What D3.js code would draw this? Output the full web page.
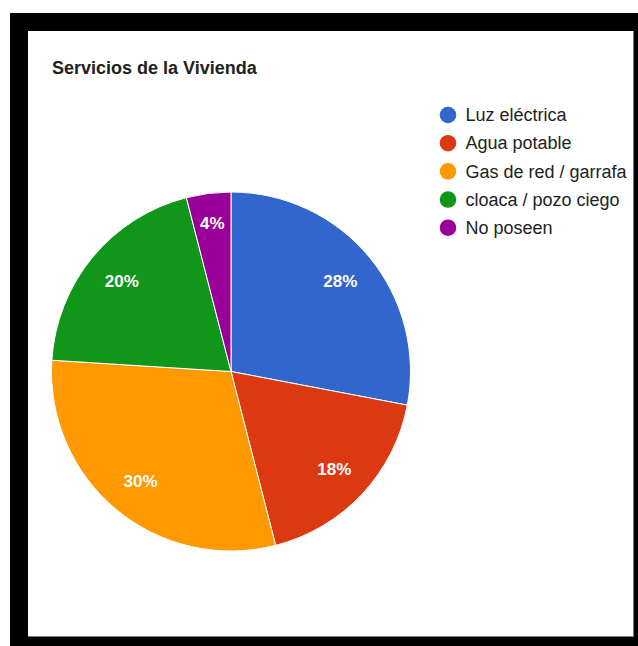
<!DOCTYPE html>
<meta charset="utf-8">
<title>Servicios de la Vivienda</title>
<style>
  body { margin: 0; background: #fff; }
  text { font-family: "Liberation Sans", Arial, sans-serif; }
</style>
<body>
<div id="chart"></div>
<script src="https://d3js.org/d3.v7.min.js"></script>
<script>

// data (percent of households)
var categories = ["Luz eléctrica", "Agua potable", "Gas de red / garrafa", "cloaca / pozo ciego", "No poseen"];
var values = [28, 18, 30, 20, 4];
var colors = ["#3366cc", "#dc3912", "#ff9900", "#109618", "#990099"];
var title = "Servicios de la Vivienda";

var width = 638, height = 646;

var svg = d3.select("#chart").append("svg")
    .attr("width", width)
    .attr("height", height);

// black frame round the chart, white panel inside with a faint grey edge
svg.append("rect").attr("x", 10).attr("y", 13).attr("width", 628).attr("height", 633).attr("fill", "#000");
svg.append("rect").attr("x", 28).attr("y", 31).attr("width", 606).attr("height", 606).attr("fill", "#777");
svg.append("rect").attr("x", 28).attr("y", 31).attr("width", 605).attr("height", 605).attr("fill", "#fff");

svg.append("text")
    .attr("x", 52).attr("y", 74)
    .style("font-size", "18px").style("font-weight", "bold")
    .attr("fill", "#222")
    .text(title);

var data = categories.map(function(c, i) { return {name: c, value: values[i], color: colors[i]}; });

var radius = 179.5;
var cx = 231, cy = 371.5;

var pie = d3.pie().sort(null).value(function(d) { return d.value; });
var arc = d3.arc().innerRadius(0).outerRadius(radius);

var g = svg.append("g").attr("transform", "translate(" + cx + "," + cy + ")");
var arcs = pie(data);

g.selectAll("path")
    .data(arcs)
    .enter().append("path")
    .attr("d", arc)
    .attr("fill", function(d) { return d.data.color; })
    .attr("stroke", "#fff")
    .attr("stroke-width", 1);

var total = d3.sum(values);

// small slices get their label pushed a little further out
g.selectAll("text.lbl")
    .data(arcs)
    .enter().append("text")
    .attr("class", "lbl")
    .attr("transform", function(d) {
        var r = d.data.value / total < 0.05 ? radius * 0.835 : radius * 0.79;
        var a = (d.startAngle + d.endAngle) / 2;
        return "translate(" + (Math.sin(a) * r) + "," + (-Math.cos(a) * r) + ")";
    })
    .attr("text-anchor", "middle")
    .attr("dy", "0.36em")
    .style("font-size", "17px").style("font-weight", "bold")
    .attr("fill", "#fff")
    .text(function(d) { return Math.round(d.data.value / total * 100) + "%"; });

// legend
var legendY = d3.scalePoint().domain(categories).range([115, 227.7]);

var legend = svg.append("g");
legend.selectAll("circle")
    .data(data)
    .enter().append("circle")
    .attr("cx", 448)
    .attr("cy", function(d) { return legendY(d.name); })
    .attr("r", 8.3)
    .attr("fill", function(d) { return d.color; });

legend.selectAll("text")
    .data(data)
    .enter().append("text")
    .attr("x", 465.5)
    .attr("y", function(d) { return legendY(d.name); })
    .attr("dy", "0.35em")
    .style("font-size", "18px")
    .attr("fill", "#222")
    .text(function(d) { return d.name; });

</script>
</body>
